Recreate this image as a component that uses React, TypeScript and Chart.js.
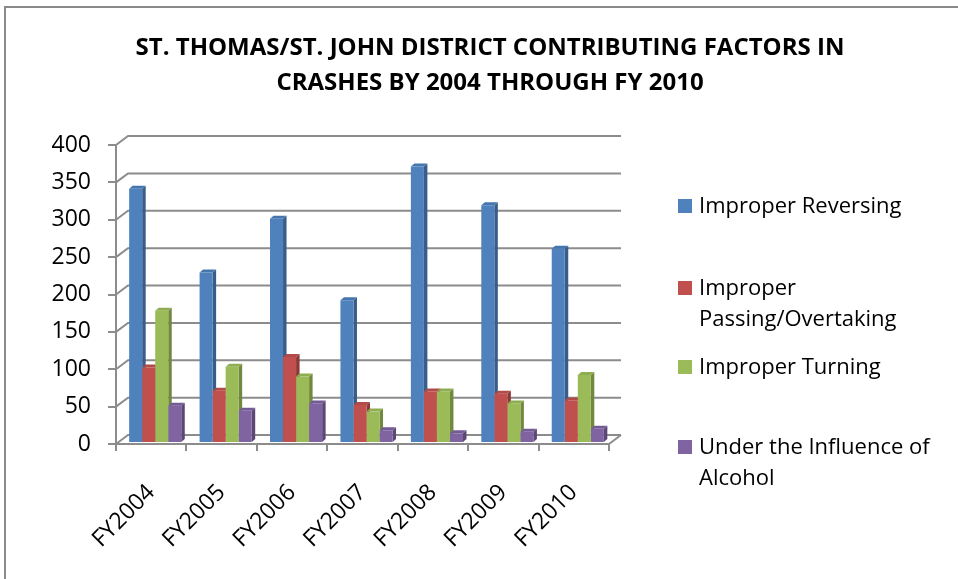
import React, { useEffect, useRef } from "react";
import { Chart, registerables } from "chart.js";

Chart.register(...registerables);

// ---------- data ----------
const CATEGORIES = ["FY2004", "FY2005", "FY2006", "FY2007", "FY2008", "FY2009", "FY2010"];
const SERIES_NAMES = [
  "Improper Reversing",
  "Improper Passing/Overtaking",
  "Improper Turning",
  "Under the Influence of Alcohol",
];
const REVERSING = [340, 228, 300, 191, 370, 318, 260];
const PASSING = [101, 70, 115, 51, 69, 66, 57];
const TURNING = [177, 102, 89, 42, 69, 53, 91];
const ALCOHOL = [50, 43, 53, 17, 13, 15, 19];
const Y_MIN = 0;
const Y_MAX = 400;
const Y_STEP = 50;
const TITLE_LINES = [
  "ST. THOMAS/ST. JOHN DISTRICT CONTRIBUTING FACTORS IN",
  "CRASHES BY 2004 THROUGH FY 2010",
];

// ---------- styles ----------
const FONT = "'Open Sans', Lato, sans-serif";
const GRID = "#8c8c8c";
const FRONT = ["#4F81BD", "#C0504D", "#9BBB59", "#8064A2"];
const SIDE = ["#385D8A", "#8C3836", "#71893F", "#5C4776"];
const TOP = ["#4676AE", "#B24A47", "#8EAD50", "#755B96"];
const WALL_DX = 12;
const WALL_DY = 9;
const BAR_DX = 3.5;
const BAR_DY = 3;
const SHIFT_X = 4;
const SHIFT_Y = -1;

const threeD = {
  id: "threeD",
  beforeDatasetsDraw(chart: any) {
    const ctx = chart.ctx;
    const ys = chart.scales.y;
    const { left, right, bottom } = chart.chartArea;
    ctx.save();
    ctx.strokeStyle = GRID;
    ctx.lineWidth = 2;
    ys.ticks.forEach((t: any) => {
      const y = ys.getPixelForValue(t.value);
      ctx.beginPath();
      ctx.moveTo(left, y);
      ctx.lineTo(left + WALL_DX, y - WALL_DY);
      ctx.lineTo(right + WALL_DX, y - WALL_DY);
      ctx.stroke();
    });
    ctx.beginPath();
    ctx.moveTo(right, bottom);
    ctx.lineTo(right + WALL_DX, bottom - WALL_DY);
    ctx.stroke();
    ctx.restore();

    ctx.save();
    ctx.translate(SHIFT_X, SHIFT_Y);
    chart.data.datasets.forEach((_: any, di: number) => {
      const meta = chart.getDatasetMeta(di);
      meta.data.forEach((el: any) => {
        const p = el.getProps(["x", "y", "width", "base"], true);
        const l = p.x - p.width / 2;
        const r = p.x + p.width / 2;
        ctx.fillStyle = SIDE[di];
        ctx.beginPath();
        ctx.moveTo(r, p.y);
        ctx.lineTo(r + BAR_DX, p.y - BAR_DY);
        ctx.lineTo(r + BAR_DX, p.base - BAR_DY);
        ctx.lineTo(r, p.base);
        ctx.closePath();
        ctx.fill();
        ctx.fillStyle = TOP[di];
        ctx.beginPath();
        ctx.moveTo(l, p.y);
        ctx.lineTo(l + BAR_DX, p.y - BAR_DY);
        ctx.lineTo(r + BAR_DX, p.y - BAR_DY);
        ctx.lineTo(r, p.y);
        ctx.closePath();
        ctx.fill();
      });
    });
  },
  afterDatasetsDraw(chart: any) {
    chart.ctx.restore();
  },
};

const frameTitleLegend = {
  id: "frameTitleLegend",
  afterDraw(chart: any) {
    const ctx = chart.ctx;
    ctx.save();
    // frame
    ctx.strokeStyle = "#8a8a8a";
    ctx.lineWidth = 2;
    ctx.beginPath();
    ctx.moveTo(5, chart.height);
    ctx.lineTo(5, 7);
    ctx.lineTo(chart.width, 7);
    ctx.stroke();

    // title
    ctx.fillStyle = "#000";
    ctx.textAlign = "center";
    ctx.textBaseline = "alphabetic";
    ctx.font = `bold 24px ${FONT}`;
    TITLE_LINES.forEach((t, i) => ctx.fillText(t, 490, 55 + i * 35));

    // legend
    const boxX = 678;
    const textX = 699;
    const maxW = 268;
    const baselines = [213, 295, 374, 454];
    const lineH = 31;
    ctx.font = `22px ${FONT}`;
    ctx.textAlign = "left";
    chart.data.datasets.forEach((ds: any, i: number) => {
      const words = String(ds.label).split(" ");
      const lines: string[] = [];
      let cur = "";
      words.forEach((w) => {
        const test = cur ? cur + " " + w : w;
        if (ctx.measureText(test).width > maxW && cur) {
          lines.push(cur);
          cur = w;
        } else cur = test;
      });
      if (cur) lines.push(cur);
      const b = baselines[i];
      ctx.fillStyle = ds.backgroundColor;
      ctx.fillRect(boxX, b - 14, 14, 14);
      ctx.fillStyle = "#000";
      lines.forEach((ln, k) => ctx.fillText(ln, textX, b + k * lineH));
    });
    ctx.restore();
  },
};

export default function App() {
  const ref = useRef<HTMLCanvasElement | null>(null);
  useEffect(() => {
    if (!ref.current) return;
    const series = [REVERSING, PASSING, TURNING, ALCOHOL];
    const chart = new Chart(ref.current, {
      type: "bar",
      data: {
        labels: CATEGORIES,
        datasets: series.map((d, i) => ({
          label: SERIES_NAMES[i],
          data: d,
          backgroundColor: FRONT[i],
          borderWidth: 0,
          categoryPercentage: 0.74,
          barPercentage: 1,
        })),
      },
      options: {
        responsive: false,
        animation: false,
        devicePixelRatio: 1,
        layout: { padding: { left: 0, top: 145, right: 371, bottom: 0 } },
        plugins: {
          legend: { display: false },
          tooltip: { enabled: false },
          title: { display: false },
        },
        scales: {
          x: {
            grid: {
              display: true,
              drawOnChartArea: false,
              drawTicks: true,
              tickLength: 7,
              color: GRID,
              lineWidth: 2,
              offset: true,
            },
            border: { display: true, color: GRID, width: 2 },
            ticks: {
              color: "#000",
              font: { family: FONT, size: 23 },
              minRotation: 45,
              maxRotation: 45,
              autoSkip: false,
              padding: 28,
            },
            afterFit: (s: any) => {
              s.height = 135;
            },
          },
          y: {
            min: Y_MIN,
            max: Y_MAX,
            ticks: {
              stepSize: Y_STEP,
              color: "#000",
              font: { family: FONT, size: 23 },
              padding: 17,
            },
            grid: {
              drawOnChartArea: false,
              drawTicks: true,
              tickLength: 8,
              color: GRID,
              lineWidth: 2,
            },
            border: { display: true, color: GRID, width: 2 },
            afterFit: (s: any) => {
              s.width = 116;
            },
          },
        },
      },
      plugins: [threeD, frameTitleLegend],
    });
    return () => chart.destroy();
  }, []);
  return (
    <div
      style={{
        position: "fixed",
        left: 0,
        top: 0,
        width: 958,
        height: 579,
        overflow: "hidden",
        background: "#fff",
      }}
    >
      <canvas ref={ref} width={980} height={579} style={{ display: "block", width: 980, height: 579 }} />
    </div>
  );
}
